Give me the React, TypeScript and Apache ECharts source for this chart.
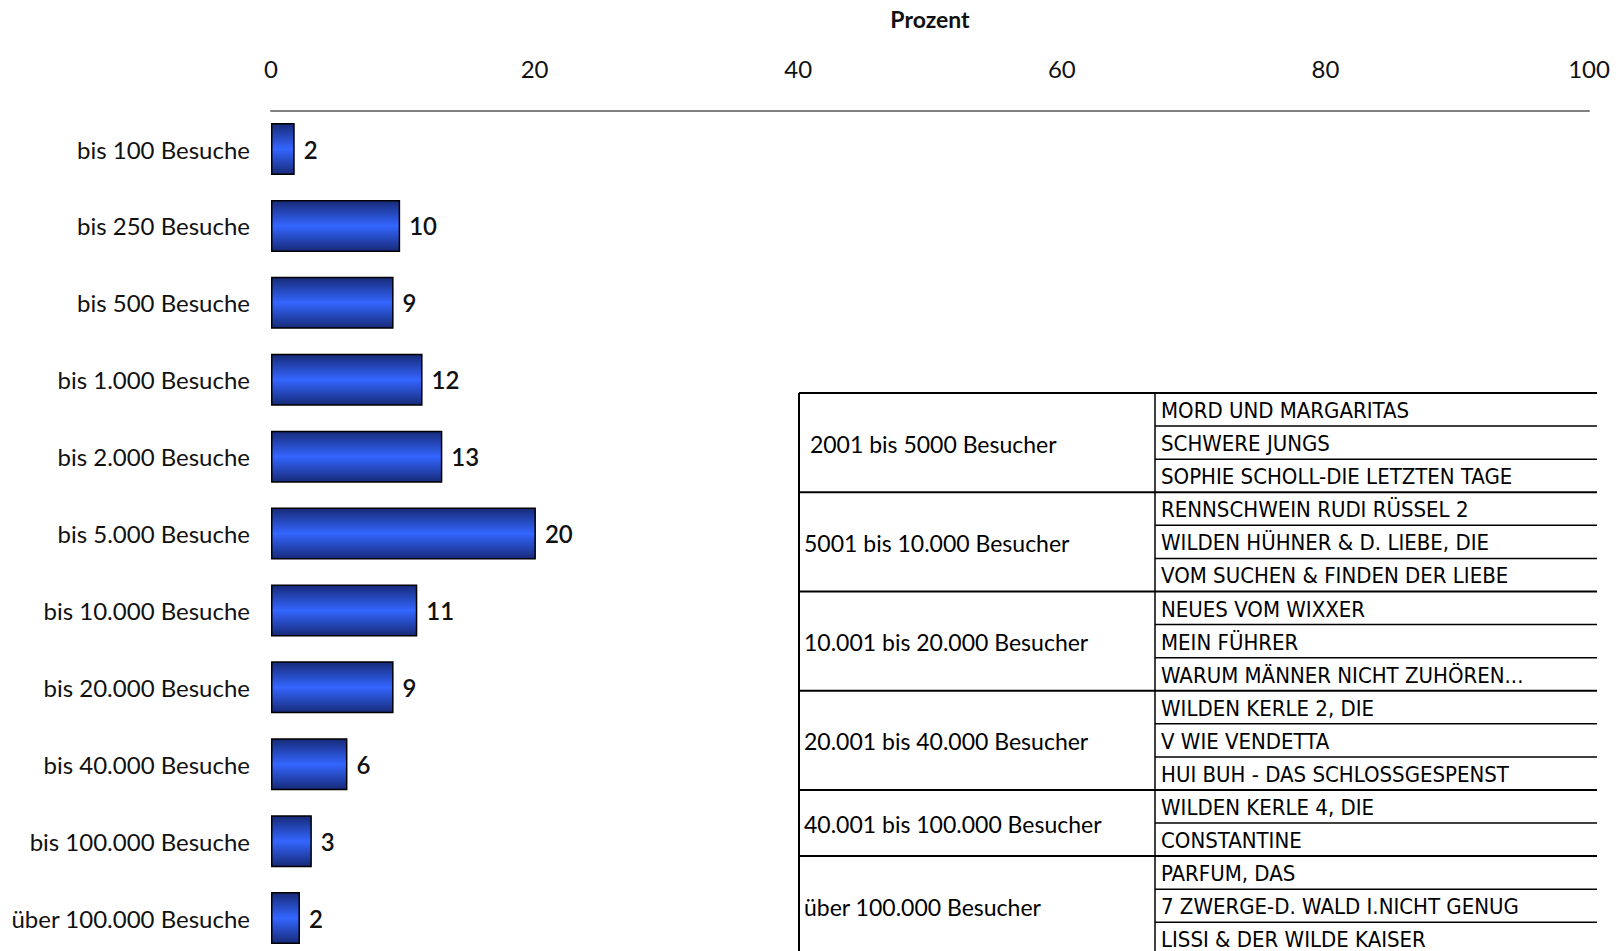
import React, { useEffect, useRef } from "react";
import * as echarts from "echarts";

const categories = [
  "bis 100 Besuche",
  "bis 250 Besuche",
  "bis 500 Besuche",
  "bis 1.000 Besuche",
  "bis 2.000 Besuche",
  "bis 5.000 Besuche",
  "bis 10.000 Besuche",
  "bis 20.000 Besuche",
  "bis 40.000 Besuche",
  "bis 100.000 Besuche",
  "über 100.000 Besuche",
];
// bar lengths (labels show them rounded)
const percentValues = [1.8, 9.8, 9.3, 11.5, 13.0, 20.1, 11.1, 9.3, 5.8, 3.1, 2.2];
const axisTitle = "Prozent";

const tableGroups = [
  " 2001 bis 5000 Besucher",
  "5001 bis 10.000 Besucher",
  "10.001 bis 20.000 Besucher",
  "20.001 bis 40.000 Besucher",
  "40.001 bis 100.000 Besucher",
  "über 100.000 Besucher",
];
const tableFilms = [
  ["MORD UND MARGARITAS", "SCHWERE JUNGS", "SOPHIE SCHOLL-DIE LETZTEN TAGE"],
  ["RENNSCHWEIN RUDI RÜSSEL 2", "WILDEN HÜHNER & D. LIEBE, DIE", "VOM SUCHEN & FINDEN DER LIEBE"],
  ["NEUES VOM WIXXER", "MEIN FÜHRER", "WARUM MÄNNER NICHT ZUHÖREN..."],
  ["WILDEN KERLE 2, DIE", "V WIE VENDETTA", "HUI BUH - DAS SCHLOSSGESPENST"],
  ["WILDEN KERLE 4, DIE", "CONSTANTINE"],
  ["PARFUM, DAS", "7 ZWERGE-D. WALD I.NICHT GENUG", "LISSI & DER WILDE KAISER"],
];

const FONT = "Lato, 'Open Sans', sans-serif";
const NARROW = "'Liberation Sans Narrow', 'DejaVu Sans Condensed', Lato, sans-serif";

function buildTable(): any[] {
  const x0 = 799;
  const xm = 1155;
  const x1 = 1597;
  const y0 = 393;
  const rh = 33.08;
  const els: any[] = [];
  const total = tableFilms.reduce((s, f) => s + f.length, 0);
  const bottom = y0 + total * rh + 4;
  const line = (xa: number, ya: number, xb: number, yb: number, w: number) =>
    els.push({
      type: "line",
      shape: { x1: xa, y1: ya, x2: xb, y2: yb },
      style: { stroke: "#000", lineWidth: w },
      silent: true,
    });
  line(x0, y0, x1, y0, 2);
  line(x0, y0, x0, bottom, 2);
  line(xm, y0, xm, bottom, 1.5);
  let row = 0;
  tableGroups.forEach((g, gi) => {
    const films = tableFilms[gi];
    const gy = y0 + row * rh;
    els.push({
      type: "text",
      x: x0 + 5,
      y: gy + (films.length * rh) / 2 + 1,
      style: {
        text: g,
        font: `23px ${FONT}`,
        fill: "#000",
        verticalAlign: "middle",
      },
      silent: true,
    });
    films.forEach((f, fi) => {
      const ry = y0 + (row + fi) * rh;
      els.push({
        type: "text",
        x: xm + 6,
        y: ry + rh / 2 + 1,
        style: {
          text: f,
          font: `22px ${NARROW}`,
          fill: "#000",
          verticalAlign: "middle",
        },
        silent: true,
      });
      if (fi < films.length - 1) line(xm, ry + rh, x1, ry + rh, 1.5);
    });
    row += films.length;
    line(x0, y0 + row * rh, x1, y0 + row * rh, 2);
  });
  return els;
}

export default function App() {
  const ref = useRef<HTMLDivElement>(null);
  useEffect(() => {
    if (!ref.current) return;
    const chart = echarts.init(ref.current, null, { renderer: "svg" });
    const barGradient = new echarts.graphic.LinearGradient(0, 0, 0, 1, [
      { offset: 0, color: "#172a78" },
      { offset: 0.5, color: "#3366ff" },
      { offset: 1, color: "#172a78" },
    ]);
    chart.setOption({
      animation: false,
      backgroundColor: "#fff",
      grid: {
        left: 271,
        top: 110.6,
        width: 1318,
        height: 11 * 76.9,
        containLabel: false,
        outerBoundsMode: "none",
      },
      xAxis: {
        type: "value",
        position: "top",
        min: 0,
        max: 100,
        interval: 20,
        name: axisTitle,
        nameLocation: "middle",
        nameGap: 80,
        nameTextStyle: { fontFamily: FONT, fontSize: 23, fontWeight: "bold", color: "#111" },
        axisLine: { show: true, lineStyle: { color: "#808080", width: 2 } },
        axisTick: { show: false },
        splitLine: { show: false },
        axisLabel: { fontFamily: FONT, fontSize: 24, color: "#111", margin: 30 },
      },
      yAxis: {
        type: "category",
        inverse: true,
        data: categories,
        axisLine: { show: false },
        axisTick: { show: false },
        axisLabel: { fontFamily: FONT, fontSize: 24, color: "#111", margin: 21 },
      },
      series: [
        {
          type: "bar",
          data: percentValues,
          barWidth: 52,
          itemStyle: { color: barGradient, borderColor: "#000", borderWidth: 1.5 },
          label: {
            show: true,
            position: "right",
            distance: 9,
            fontFamily: FONT,
            fontSize: 24,
            fontWeight: 600,
            color: "#111",
            formatter: (p: any) => String(Math.round(p.value)),
          },
        },
      ],
      graphic: buildTable(),
    });
    return () => chart.dispose();
  }, []);
  return (
    <div
      ref={ref}
      style={{ position: "fixed", left: 0, top: 0, width: 1621, height: 951, background: "#fff" }}
    />
  );
}
